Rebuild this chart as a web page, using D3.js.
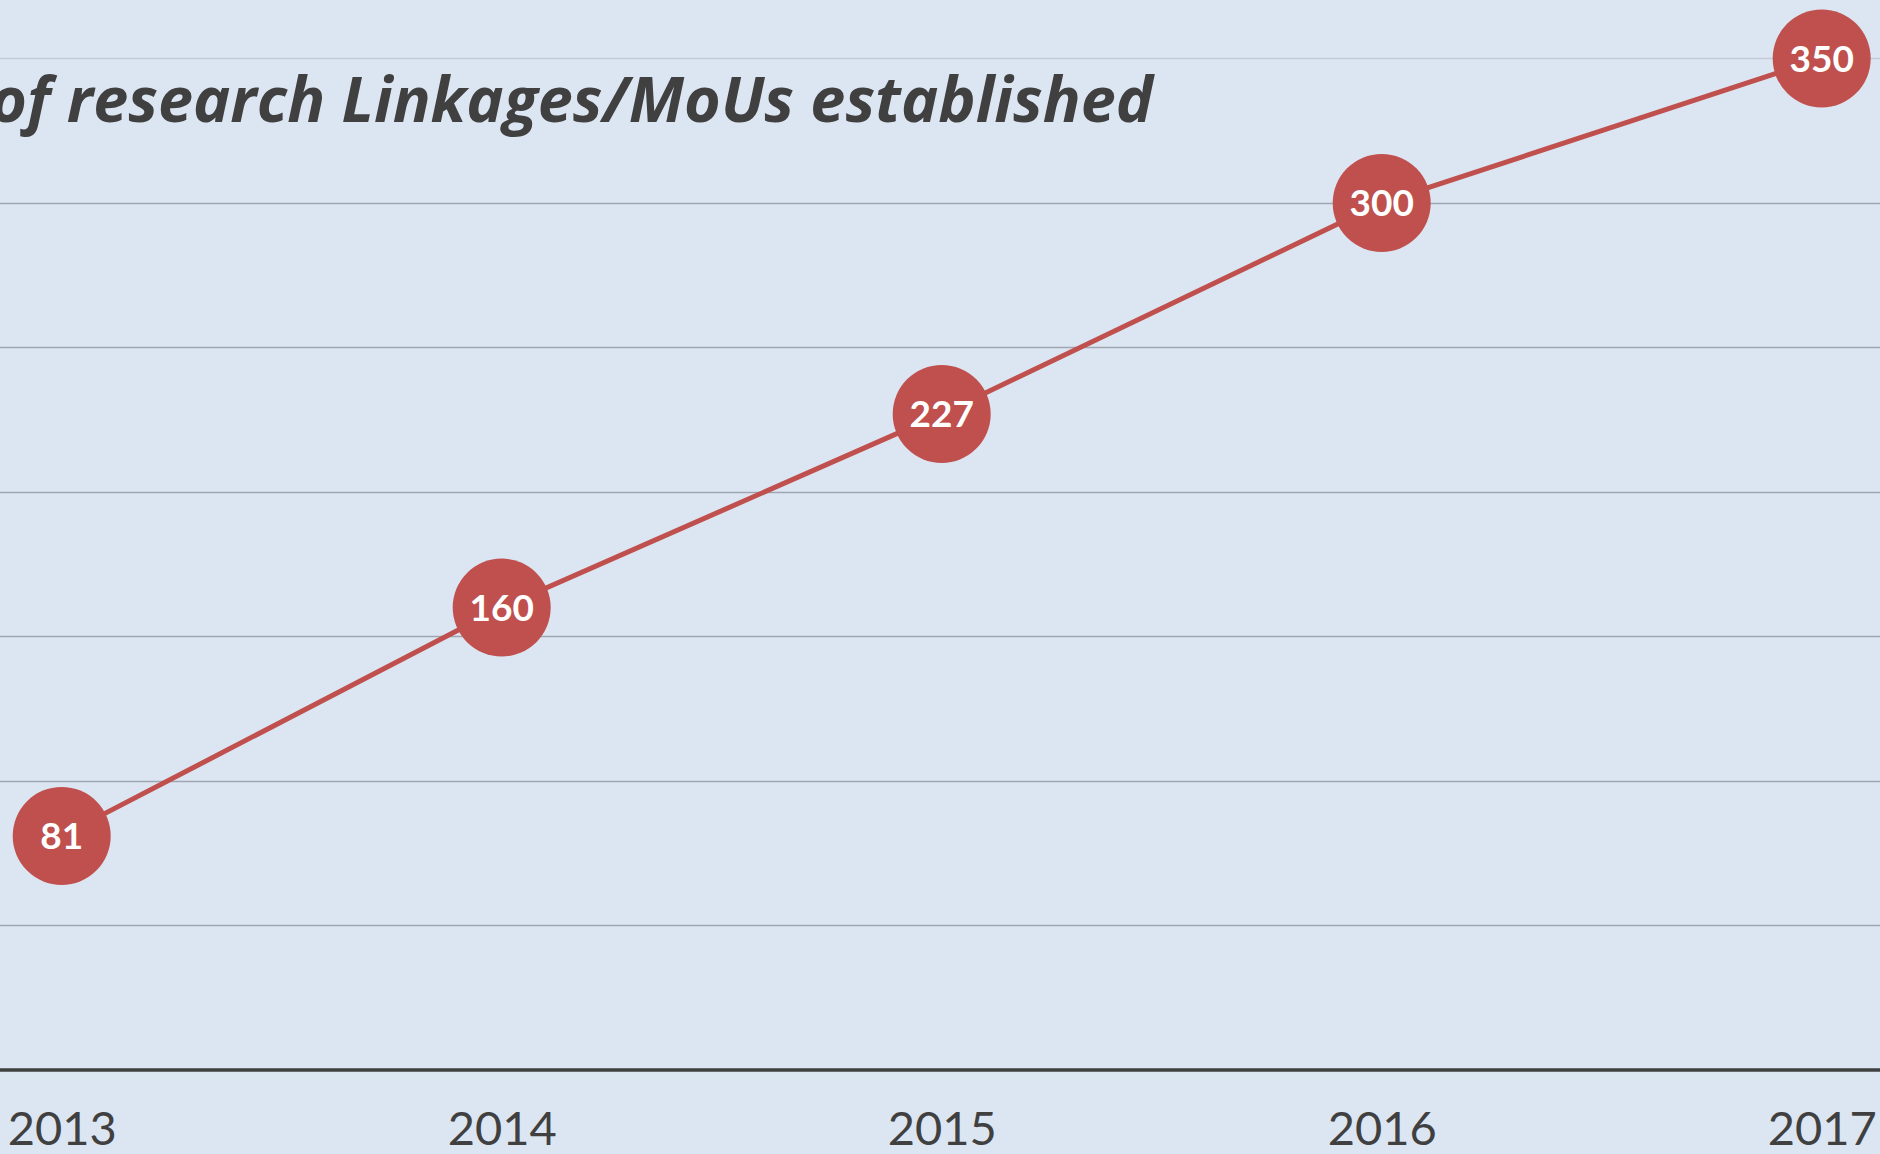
<!DOCTYPE html>
<html>
<head>
<meta charset="utf-8">
<script src="https://cdn.jsdelivr.net/npm/d3@7"></script>
<style>
    html, body { margin: 0; padding: 0; background: #dce6f2; }
    svg { display: block; }
</style>
</head>
<body>
<svg id="chart"></svg>
<script>
// data
const years = ['2013', '2014', '2015', '2016', '2017'];
const linkages = [81, 160, 227, 300, 350];
const yTicks = [0, 50, 100, 150, 200, 250, 300, 350];
const titleLead = 'Number ';
const titleRest = 'of research Linkages/MoUs established';

const config = {
    width: 1880,
    height: 1154,
    xLeft: 61.7,
    xRight: 1821.7,
    yBottom: 1070,
    yTop: 58.4,
    radius: 49,
    titleRight: 1153,
    titleVisibleWidth: 1163
};

const svg = d3.select('#chart')
    .attr('width', config.width)
    .attr('height', config.height);

svg.append('rect')
    .attr('width', config.width)
    .attr('height', config.height)
    .attr('fill', '#dce6f2');

const x = d3.scalePoint()
    .domain(years)
    .range([config.xLeft, config.xRight]);

const y = d3.scaleLinear()
    .domain([0, 350])
    .range([config.yBottom, config.yTop]);

// horizontal gridlines (top one is a bit lighter in the original)
svg.append('g')
    .selectAll('line')
    .data(yTicks.filter(d => d > 0))
    .join('line')
    .attr('x1', 0)
    .attr('x2', config.width)
    .attr('y1', d => Math.round(y(d)) + 0.5)
    .attr('y2', d => Math.round(y(d)) + 0.5)
    .attr('stroke', d => d === 350 ? '#c2cbd5' : '#9ea7b1')
    .attr('stroke-width', 1.3);

// x axis baseline + year labels
const xAxis = svg.append('g')
    .attr('transform', `translate(0, ${config.yBottom})`)
    .call(d3.axisBottom(x).tickSize(0).tickPadding(0));

xAxis.select('.domain').remove();
xAxis.append('line')
    .attr('x1', 0)
    .attr('x2', config.width)
    .attr('stroke', '#404040')
    .attr('stroke-width', 3.5);

xAxis.selectAll('.tick text')
    .attr('y', 75)
    .attr('dy', 0)
    .attr('fill', '#404040')
    .style('font-family', 'Lato, "Noto Sans", sans-serif')
    .style('font-size', '47px');

// title, partly cut off at the left edge like the source
const title = svg.append('text')
    .attr('x', config.titleRight)
    .attr('y', 122)
    .attr('text-anchor', 'end')
    .attr('fill', '#404040')
    .style('font-family', '"Open Sans", "Noto Sans", sans-serif')
    .style('font-weight', 700)
    .style('font-style', 'italic')
    .style('font-size', '58px');

title.append('tspan').text(titleLead);
const restSpan = title.append('tspan').text(titleRest);

// size the font so the visible part spans the same width as the source
const measured = restSpan.node().getComputedTextLength();
title.style('font-size', `${58 * config.titleVisibleWidth / measured}px`);

const points = years.map((yr, i) => ({ year: yr, value: linkages[i] }));

const line = d3.line()
    .x(d => x(d.year))
    .y(d => y(d.value));

svg.append('path')
    .datum(points)
    .attr('d', line)
    .attr('fill', 'none')
    .attr('stroke', '#c0504d')
    .attr('stroke-width', 5);

const markers = svg.append('g')
    .selectAll('g')
    .data(points)
    .join('g')
    .attr('transform', d => `translate(${x(d.year)}, ${y(d.value)})`);

markers.append('circle')
    .attr('r', config.radius)
    .attr('fill', '#c0504d');

markers.append('text')
    .attr('text-anchor', 'middle')
    .attr('dy', '0.36em')
    .attr('fill', '#ffffff')
    .style('font-family', 'Lato, "Noto Sans", sans-serif')
    .style('font-weight', 700)
    .style('font-size', '37px')
    .text(d => d.value);
</script>
</body>
</html>
